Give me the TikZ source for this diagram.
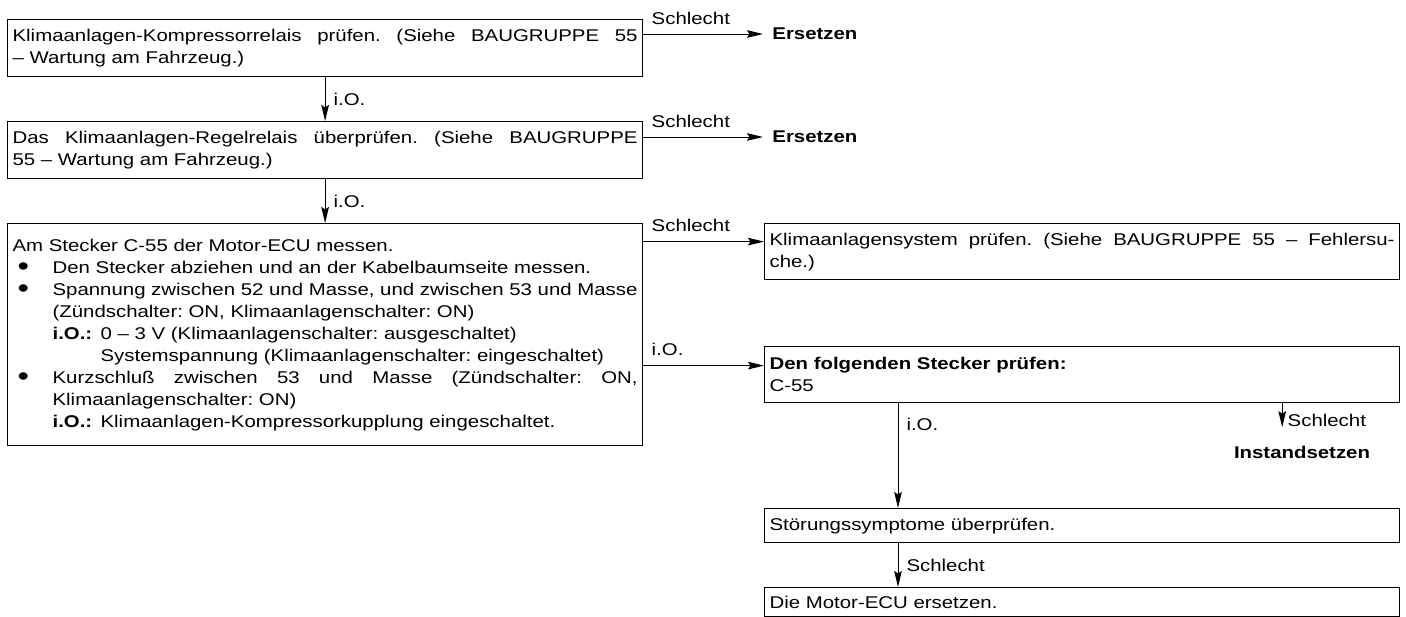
\documentclass[tikz,border=0pt]{standalone}
\usepackage{fontspec}
\usepackage{graphicx}
\setmainfont{Liberation Sans}[FakeStretch=1.2]
\usetikzlibrary{arrows.meta}
\setlength{\parindent}{0pt}
\frenchspacing

\newcommand{\fs}{\fontsize{8.5}{11}\selectfont}
\newcommand{\bul}{\par\hangindent=20pt\hangafter=1\makebox[20pt][l]{\hspace{2.5pt}\smash{\raisebox{-1.2pt}{\scalebox{1.6}{\textbullet}}}}}
\newcommand{\iO}{\makebox[24pt][l]{\textbf{i.O.:}}}

\tikzset{
  box/.style={draw, line width=0.6pt, anchor=north west, text width=312.5pt,
    inner xsep=2.5pt, inner ysep=0pt, align=justify, font=\fs},
  lbl/.style={font=\fs, inner xsep=4pt, inner ysep=4.5pt},
  res/.style={font=\fs\bfseries, anchor=west, inner xsep=4.5pt},
  arr/.style={line width=0.5pt, -{Stealth[length=8pt,width=3.8pt,inset=1.2pt]}}
}

\begin{document}
\begin{tikzpicture}[x=0.5pt, y=-0.5pt]
\useasboundingbox (0,0) rectangle (1406,616);

% left column: checks
\node[box, minimum height=28.5pt] (b1) at (7,19)
  {Klimaanlagen-Kompressorrelais prüfen. (Siehe BAUGRUPPE 55\linebreak – Wartung am Fahrzeug.)};
\node[box, minimum height=28.5pt] (b2) at (7,121)
  {Das Klimaanlagen-Regelrelais überprüfen. (Siehe BAUGRUPPE\linebreak 55 – Wartung am Fahrzeug.)};
\node[box, minimum height=111pt] (b3) at (7,223)
  {Am Stecker C-55 der Motor-ECU messen.
   \bul Den Stecker abziehen und an der Kabelbaumseite messen.
   \bul Spannung zwischen 52 und Masse, und zwischen 53 und Masse\linebreak (Zündschalter: ON, Klimaanlagenschalter: ON)\par
   {\leftskip=20pt \iO 0 – 3 V (Klimaanlagenschalter: ausgeschaltet)\\
    \hspace*{24pt}Systemspannung (Klimaanlagenschalter: eingeschaltet)\par}
   \bul Kurzschluß zwischen 53 und Masse (Zündschalter: ON,\linebreak Klimaanlagenschalter: ON)\par
   {\leftskip=20pt \iO Klimaanlagen-Kompressorkupplung eingeschaltet.\par}};

% right column
\node[box, minimum height=28pt] (b4) at (764,223)
  {Klimaanlagensystem prüfen. (Siehe BAUGRUPPE 55 – Fehlersu-\linebreak che.)};
\node[box, minimum height=28pt] (b5) at (764,346)
  {\textbf{Den folgenden Stecker prüfen:}\\C-55};
\node[box, minimum height=17pt] (b6) at (764,508) {Störungssymptome überprüfen.};
\node[box, minimum height=14.5pt] (b7) at (764,587) {Die Motor-ECU ersetzen.};

% results
\node[res] (e1) at (763,34) {Ersetzen};
\node[res] (e2) at (763,137) {Ersetzen};
\node[res, anchor=center] (r5) at (1302,452) {Instandsetzen};

% connectors
\draw[arr] (b1) -- node[lbl, right] {i.O.} (b2);
\draw[arr] (b2) -- node[lbl, right] {i.O.} (b3);
\draw[arr] (b1.east |- e1) -- node[lbl, pos=0, anchor=south west] {Schlecht} (e1);
\draw[arr] (b2.east |- e2) -- node[lbl, pos=0, anchor=south west] {Schlecht} (e2);

\coordinate (t4) at ([yshift=5pt]b4.west);
\coordinate (t5) at ([yshift=4.5pt]b5.west);
\draw[arr] (b3.east |- t4) -- node[lbl, pos=0, anchor=south west] {Schlecht} (t4);
\draw[arr] (b3.east |- t5) -- node[lbl, pos=0, anchor=south west] {i.O.} (t5);

\coordinate (t6) at ([xshift=67pt]b6.north west);
\coordinate (t7) at ([xshift=67pt]b7.north west);
\draw[arr] (b5.south -| t6) -- node[lbl, pos=0.2, anchor=west] {i.O.} (t6);
\draw[arr] (b6.south -| t7) -- node[lbl, midway, anchor=west] {Schlecht} (t7);

\coordinate (s5) at ([xshift=-59pt]b5.south east);
\coordinate (u5) at ([xshift=-59pt, yshift=-12pt]b5.south east);
\draw[arr] (s5) -- node[lbl, pos=0.7, anchor=west, inner xsep=2.5pt] {Schlecht} (u5);
\end{tikzpicture}
\end{document}
